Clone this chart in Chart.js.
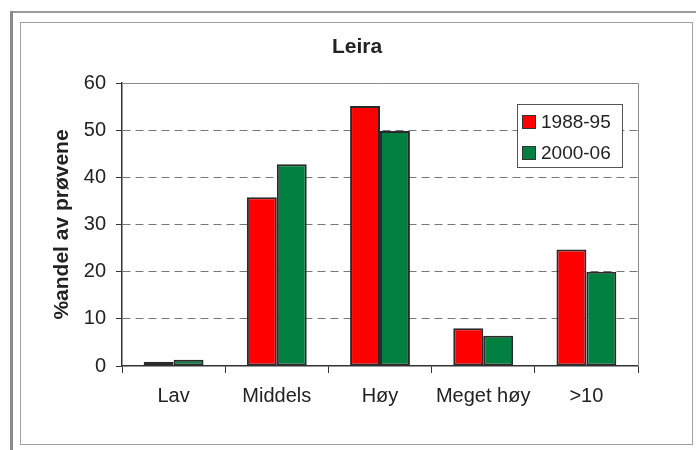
<!DOCTYPE html>
<html>
<head>
<meta charset="utf-8">
<script src="https://cdn.jsdelivr.net/npm/chart.js@4"></script>
<style>
  html, body { margin: 0; padding: 0; background: #fff; }
  #wrap { position: relative; width: 696px; height: 450px; overflow: hidden; }
  #outerTop { position: absolute; left: 10px; top: 11px; width: 690px; height: 0; border-top: 2px solid #9a9a9a; }
  #outerLeft { position: absolute; left: 10px; top: 11px; width: 0; height: 445px; border-left: 3px solid #8a8a8a; }
  #inner { position: absolute; left: 20px; top: 22px; width: 671px; height: 421px; border: 1px solid #a0a0a0; }
  canvas { position: absolute; left: 0; top: 0; }
</style>
</head>
<body>
<div id="wrap">
  <div id="outerTop"></div>
  <div id="outerLeft"></div>
  <div id="inner"></div>
  <canvas id="c" width="696" height="450"></canvas>
</div>
<script>
const categories = ['Lav', 'Middels', 'Høy', 'Meget høy', '>10'];
const seriesNames = ['1988-95', '2000-06'];
const values1988 = [0.9, 35.8, 55.1, 8.0, 24.7];
const values2000 = [1.3, 42.8, 49.8, 6.4, 20.0];
const yTicks = [0, 10, 20, 30, 40, 50, 60];
const titleText = 'Leira';
const yTitle = '%andel av prøvene';
const colors = ['#ff0000', '#008040'];

const FONT = "'Liberation Sans', Arial, sans-serif";

const framePlugin = {
  id: 'frame',
  beforeDatasetsDraw(chart) {
    const { ctx, chartArea: a } = chart;
    ctx.save();
    ctx.strokeStyle = '#8a8a8a';
    ctx.lineWidth = 1;
    ctx.beginPath();
    ctx.moveTo(a.left, a.top + 0.5);
    ctx.lineTo(a.right + 0.5, a.top + 0.5);
    ctx.lineTo(a.right + 0.5, a.bottom);
    ctx.stroke();
    ctx.restore();
  }
};

const titlePlugin = {
  id: 'chartTitle',
  afterDraw(chart) {
    const { ctx } = chart;
    ctx.save();
    ctx.font = 'bold 21px ' + FONT;
    ctx.fillStyle = '#222';
    ctx.textAlign = 'center';
    ctx.textBaseline = 'middle';
    ctx.fillText(titleText, 357, 47);
    ctx.restore();
  }
};

const legendPlugin = {
  id: 'boxLegend',
  afterDraw(chart) {
    const { ctx } = chart;
    const x = 517, y = 104, w = 105, h = 63;
    ctx.save();
    ctx.fillStyle = '#fff';
    ctx.fillRect(x, y, w, h);
    ctx.strokeStyle = '#555';
    ctx.lineWidth = 1;
    ctx.strokeRect(x + 0.5, y + 0.5, w, h);
    ctx.font = '19px ' + FONT;
    ctx.textBaseline = 'middle';
    ctx.textAlign = 'left';
    chart.data.datasets.forEach((ds, i) => {
      const cy = y + 18 + i * 31;
      ctx.fillStyle = ds.backgroundColor;
      ctx.fillRect(x + 5, cy - 7, 14, 14);
      ctx.strokeStyle = '#333';
      ctx.strokeRect(x + 5.5, cy - 6.5, 13, 13);
      ctx.fillStyle = '#222';
      ctx.fillText(ds.label, x + 24, cy + 1);
    });
    ctx.restore();
  }
};

new Chart(document.getElementById('c'), {
  type: 'bar',
  data: {
    labels: categories,
    datasets: [
      { label: seriesNames[0], data: values1988, backgroundColor: colors[0], borderColor: '#2a2a2a', borderWidth: 2, borderSkipped: false },
      { label: seriesNames[1], data: values2000, backgroundColor: colors[1], borderColor: '#2a2a2a', borderWidth: 2, borderSkipped: false }
    ]
  },
  options: {
    responsive: false,
    animation: false,
    devicePixelRatio: 1,
    layout: { padding: { left: 0, right: 58, top: 83, bottom: 0 } },
    categoryPercentage: 0.58,
    barPercentage: 1.0,
    plugins: {
      legend: { display: false },
      tooltip: { enabled: false },
      title: { display: false }
    },
    scales: {
      x: {
        offset: true,
        grid: { display: true, drawOnChartArea: false, drawTicks: true, tickLength: 7, color: '#333', offset: true },
        border: { display: true, color: '#333', width: 1.5 },
        ticks: { color: '#222', font: { family: FONT, size: 20 }, padding: 11, maxRotation: 0 },
        afterFit(s) { s.height = 84; }
      },
      y: {
        min: 0, max: 60,
        afterBuildTicks(s) { s.ticks = yTicks.map(v => ({ value: v })); },
        grid: {
          drawTicks: true, tickLength: 6, tickColor: '#333',
          color: (c) => (c.tick && (c.tick.value === 0 || c.tick.value === 60)) ? 'rgba(0,0,0,0)' : '#777'
        },
        border: { display: true, color: '#333', width: 1.5, dash: [8, 5] },
        ticks: { color: '#222', font: { family: FONT, size: 20 }, padding: 10 },
        title: {
          display: true, text: yTitle, color: '#222',
          font: { family: FONT, size: 21, weight: 'bold', lineHeight: 1.2 },
          padding: { top: 50, bottom: 0 }
        },
        afterFit(s) { s.width = 122; }
      }
    }
  },
  plugins: [framePlugin, titlePlugin, legendPlugin]
});
</script>
</body>
</html>
